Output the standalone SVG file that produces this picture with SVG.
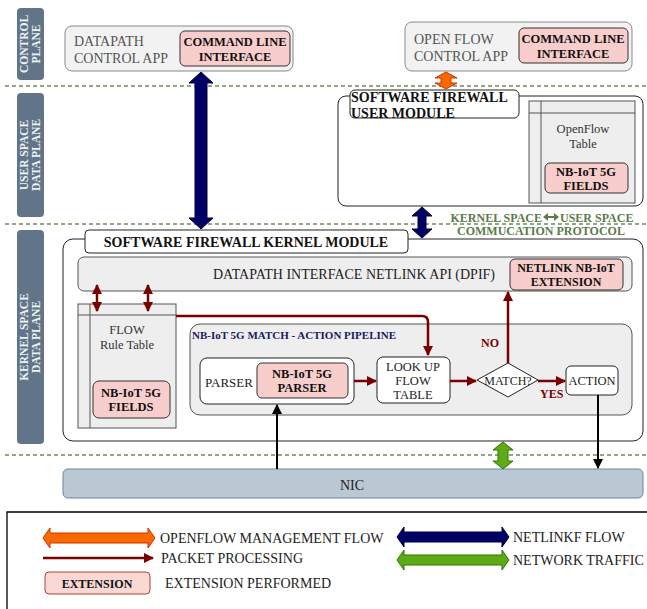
<svg xmlns="http://www.w3.org/2000/svg" width="647" height="609" viewBox="0 0 647 609" font-family="'Liberation Serif', 'Times New Roman', serif">
<defs>
<style>
text{font-family:"Liberation Serif","Times New Roman",serif;}
.side{fill:#627588;}
.sidet{fill:#eef1f4;font-size:11.5px;font-weight:bold;text-anchor:middle;}
.dash{stroke:#6b8c5a;stroke-width:1.3;stroke-dasharray:4,3;fill:none;}
.app{fill:#f2f2f2;stroke:#888;stroke-width:1;}
.ext{fill:#f8cecc;stroke:#333;stroke-width:1;}
.gray{fill:#eeeeee;stroke:#555;stroke-width:1;}
.white{fill:#fff;stroke:#222;stroke-width:1;}
.norm{font-size:14px;fill:#222;}
.grayt{font-size:14px;fill:#555;}
.bold{font-weight:bold;fill:#111;}
.c{text-anchor:middle;}
.red{stroke:#7a0000;stroke-width:2.5;fill:none;}
.navy{fill:#000066;stroke:#000033;stroke-width:1;}
.orange{fill:#fa6800;stroke:#c73500;stroke-width:1;}
.green{fill:#60a917;stroke:#2d7600;stroke-width:1;}
.lbl{font-size:12px;font-weight:bold;fill:#7a0000;}
.proto{font-size:12px;font-weight:bold;fill:#5c7a4a;}
</style>
<marker id="rh" viewBox="0 0 10 10" refX="9" refY="5" markerWidth="4" markerHeight="4" orient="auto-start-reverse" markerUnits="strokeWidth"><path d="M0,0 L10,5 L0,10 z" fill="#7a0000"/></marker>
<marker id="bh" viewBox="0 0 10 10" refX="9" refY="5" markerWidth="5" markerHeight="5" orient="auto" markerUnits="strokeWidth"><path d="M0,0 L10,5 L0,10 z" fill="#000"/></marker>
</defs>
<rect width="647" height="609" fill="#fff"/>

<g id="side-labels">
<rect class="side" x="17" y="8" width="27" height="72" rx="4"/>
<text class="sidet" transform="translate(28,44) rotate(-90)">CONTROL</text>
<text class="sidet" transform="translate(40,44) rotate(-90)">PLANE</text>
<rect class="side" x="17" y="93" width="27" height="124" rx="4"/>
<text class="sidet" transform="translate(28,155) rotate(-90)">USER SPACE</text>
<text class="sidet" transform="translate(40,155) rotate(-90)">DATA PLANE</text>
<rect class="side" x="17" y="230" width="27" height="214" rx="4"/>
<text class="sidet" transform="translate(28,337) rotate(-90)">KERNEL SPACE</text>
<text class="sidet" transform="translate(40,337) rotate(-90)">DATA PLANE</text>
</g>

<g id="plane-dividers">
<line class="dash" x1="5" y1="86" x2="647" y2="86"/>
<line class="dash" x1="5" y1="224" x2="647" y2="224"/>
<line class="dash" x1="5" y1="455" x2="647" y2="455"/>
</g>

<g id="datapath-control-app">
<rect class="app" x="65" y="26" width="228" height="45" rx="7"/>
<text class="grayt" x="74" y="46">DATAPATH</text>
<text class="grayt" x="74" y="63">CONTROL APP</text>
<rect class="ext" x="180" y="31" width="110" height="35" rx="5"/>
<text class="bold c" x="235" y="46" font-size="12.5">COMMAND LINE</text>
<text class="bold c" x="235" y="61" font-size="12.5">INTERFACE</text>
</g>

<g id="openflow-control-app">
<rect class="app" x="405" y="22" width="227" height="49" rx="7"/>
<text class="grayt" x="414" y="44">OPEN FLOW</text>
<text class="grayt" x="414" y="61">CONTROL APP</text>
<rect class="ext" x="519" y="28" width="109" height="35" rx="5"/>
<text class="bold c" x="573" y="43" font-size="12.5">COMMAND LINE</text>
<text class="bold c" x="573" y="58" font-size="12.5">INTERFACE</text>
</g>

<g id="user-module">
<rect class="white" x="338" y="96" width="305" height="110" rx="8"/>
<rect class="white" x="350" y="90" width="169" height="28" rx="5"/>
<text class="bold" x="351" y="102" font-size="14">SOFTWARE FIREWALL</text>
<text class="bold" x="351" y="118" font-size="14">USER MODULE</text>
<rect class="gray" x="529" y="101" width="106" height="102"/>
<line x1="541" y1="101" x2="541" y2="203" stroke="#555"/>
<line x1="529" y1="113" x2="635" y2="113" stroke="#555"/>
<text class="c" x="583" y="133" font-size="12.5" fill="#333">OpenFlow</text>
<text class="c" x="583" y="148" font-size="12.5" fill="#333">Table</text>
<rect class="ext" x="545" y="163" width="83" height="30" rx="5"/>
<text class="bold c" x="586" y="176" font-size="12.5">NB-IoT 5G</text>
<text class="bold c" x="586" y="190" font-size="12.5">FIELDS</text>
</g>

<g id="comm-protocol-label">
<text class="proto" x="542" y="222" text-anchor="end">KERNEL SPACE</text>
<polygon fill="#5c7a4a" points="543,217 548,213 548,216 554,216 554,213 559,217 554,221 554,218 548,218 548,221"/>
<text class="proto" x="560" y="222">USER SPACE</text>
<text class="proto c" x="541" y="235">COMMUCATION PROTOCOL</text>
</g>

<g id="kernel-module">
<rect class="white" x="63" y="239" width="580" height="202" rx="10"/>
<rect class="white" x="85" y="230" width="323" height="23" rx="4"/>
<text class="bold c" x="246" y="247" font-size="14">SOFTWARE FIREWALL KERNEL MODULE</text>
</g>

<g id="dpif">
<rect class="gray" x="78" y="257" width="554" height="34" rx="6"/>
<text class="norm" x="354" y="279" text-anchor="middle" fill="#333">DATAPATH INTERFACE NETLINK API (DPIF)</text>
<rect class="ext" x="510" y="259" width="113" height="31" rx="5"/>
<text class="bold c" x="566" y="272" font-size="12">NETLINK NB-IoT</text>
<text class="bold c" x="566" y="286" font-size="12">EXTENSION</text>
</g>

<g id="flow-rule-table">
<rect class="gray" x="78" y="304" width="98" height="124"/>
<line x1="90" y1="304" x2="90" y2="428" stroke="#555"/>
<line x1="78" y1="315" x2="176" y2="315" stroke="#555"/>
<text class="c" x="127" y="334" font-size="12.5" fill="#333">FLOW</text>
<text class="c" x="127" y="349" font-size="12.5" fill="#333">Rule Table</text>
<rect class="ext" x="93" y="381" width="77" height="37" rx="6"/>
<text class="bold c" x="131" y="397" font-size="12.5">NB-IoT 5G</text>
<text class="bold c" x="131" y="411" font-size="12.5">FIELDS</text>
</g>

<g id="pipeline">
<rect class="gray" x="190" y="324" width="442" height="91" rx="10"/>
<text x="192" y="339" font-size="11" font-weight="bold" fill="#1a1a5e">NB-IoT 5G MATCH - ACTION PIPELINE</text>
</g>

<g id="parser">
<rect class="white" x="200" y="358" width="154" height="46" rx="7"/>
<text x="205" y="387" font-size="13" fill="#222">PARSER</text>
<rect class="ext" x="257" y="363" width="91" height="35" rx="5"/>
<text class="bold c" x="302" y="378" font-size="12.5">NB-IoT 5G</text>
<text class="bold c" x="302" y="392" font-size="12.5">PARSER</text>
</g>

<g id="lookup">
<rect class="white" x="377" y="357" width="73" height="46" rx="6"/>
<text class="c" x="413" y="371" font-size="12.5" fill="#222">LOOK UP</text>
<text class="c" x="413" y="385" font-size="12.5" fill="#222">FLOW</text>
<text class="c" x="413" y="399" font-size="12.5" fill="#222">TABLE</text>
</g>

<g id="match">
<polygon points="508,363 538,380 508,397 477,380" fill="#fff" stroke="#222"/>
<text class="c" x="508" y="385" font-size="12" fill="#222">MATCH?</text>
</g>

<g id="action">
<rect class="white" x="566" y="366" width="52" height="29" rx="5"/>
<text class="c" x="592" y="385" font-size="12.5" fill="#222">ACTION</text>
</g>

<g id="nic">
<rect x="63" y="469" width="580" height="29" rx="5" fill="#bac8d3" stroke="#6b85a0"/>
<text class="c" x="352" y="490" font-size="14" fill="#222">NIC</text>
</g>

<g id="connectors">
<polygon class="navy" points="201,72 213,83 207,83 207,218 213,218 201,229 189,218 195,218 195,83 189,83"/>
<polygon class="orange" points="446,72 457,78 451,78 451,83 457,83 446,89 435,83 441,83 441,78 435,78"/>
<polygon class="navy" points="422,207 432,216 426,216 426,229 432,229 422,238 412,229 418,229 418,216 412,216"/>
<polygon class="green" points="503,442 513,450 508,450 508,461 513,461 503,469 493,461 498,461 498,450 493,450"/>
<line class="red" x1="97" y1="285" x2="97" y2="311" marker-start="url(#rh)" marker-end="url(#rh)"/>
<line class="red" x1="148" y1="285" x2="148" y2="311" marker-start="url(#rh)" marker-end="url(#rh)"/>
<path class="red" d="M176,316 H422 Q428,316 428,322 V355" marker-end="url(#rh)"/>
<line class="red" x1="354" y1="381" x2="376" y2="381" marker-end="url(#rh)"/>
<line class="red" x1="450" y1="381" x2="476" y2="381" marker-end="url(#rh)"/>
<line class="red" x1="538" y1="381" x2="565" y2="381" marker-end="url(#rh)"/>
<line class="red" x1="508" y1="363" x2="508" y2="292" marker-end="url(#rh)"/>
<text class="lbl" x="481" y="347">NO</text>
<text class="lbl" x="540" y="398">YES</text>
<line x1="277" y1="469" x2="277" y2="405" stroke="#000" stroke-width="2" marker-end="url(#bh)"/>
<line x1="598" y1="395" x2="598" y2="468" stroke="#000" stroke-width="2" marker-end="url(#bh)"/>
</g>

<g id="legend">
<path d="M7,609 V512 H647" fill="none" stroke="#000" stroke-width="1.3"/>
<polygon class="orange" points="43,538 50,528 50,533 148,533 148,528 155,538 148,548 148,543 50,543 50,548"/>
<text class="norm" x="160" y="543" font-size="13.5">OPENFLOW MANAGEMENT FLOW</text>
<line class="red" x1="43" y1="558" x2="153" y2="558" marker-end="url(#rh)"/>
<text class="norm" x="161" y="563" font-size="13.5">PACKET PROCESSING</text>
<rect x="45" y="572" width="105" height="22" rx="4" fill="#fad9d5" stroke="#ae4132"/>
<text class="bold c" x="97" y="588" font-size="12">EXTENSION</text>
<text class="norm" x="165" y="588" font-size="13.5">EXTENSION PERFORMED</text>
<polygon class="navy" points="397,537 404,527 404,532 502,532 502,527 509,537 502,547 502,542 404,542 404,547"/>
<text class="norm" x="513" y="542" font-size="13.5">NETLINKF FLOW</text>
<polygon class="green" points="397,560 404,550 404,555 502,555 502,550 509,560 502,570 502,565 404,565 404,570"/>
<text class="norm" x="513" y="565" font-size="13.5">NETWORK TRAFFIC</text>
</g>
</svg>
